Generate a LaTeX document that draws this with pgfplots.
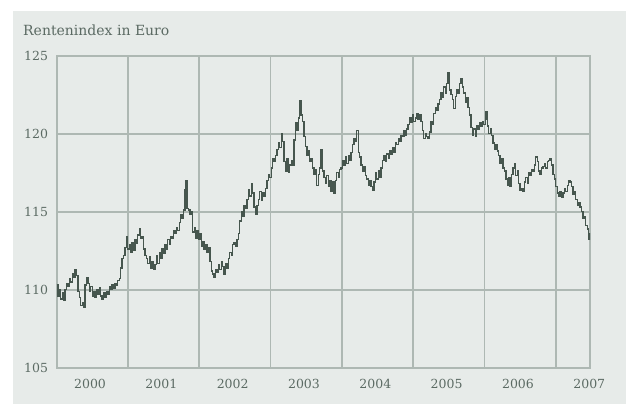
\documentclass[border=0pt]{standalone}
\usepackage{pgfplots}
\pgfplotsset{compat=1.18}
\usepackage{fontspec}
\setmainfont{DejaVu Serif}
\definecolor{panel}{HTML}{E7EBE9}
\definecolor{gridc}{HTML}{AEB8B3}
\definecolor{linec}{HTML}{46564E}
\definecolor{txt}{HTML}{5B6A63}
\pgfplotstableread{
t v
2000.00 110.3
2000.02 109.6
2000.04 110.0
2000.06 109.4
2000.08 109.8
2000.10 109.3
2000.12 110.0
2000.14 110.4
2000.16 110.2
2000.18 110.7
2000.20 110.5
2000.22 111.0
2000.24 110.8
2000.26 111.3
2000.28 110.9
2000.30 109.9
2000.32 109.5
2000.34 109.0
2000.36 109.2
2000.38 108.9
2000.40 110.3
2000.42 110.8
2000.44 110.4
2000.46 109.9
2000.48 110.2
2000.50 109.6
2000.52 109.9
2000.54 109.5
2000.56 110.0
2000.58 109.7
2000.60 110.1
2000.62 109.6
2000.64 109.4
2000.66 109.8
2000.68 109.5
2000.70 109.9
2000.72 109.7
2000.74 110.2
2000.76 110.0
2000.78 110.3
2000.80 110.1
2000.82 110.4
2000.84 110.3
2000.86 110.6
2000.88 110.7
2000.90 111.4
2000.92 112.0
2000.94 112.2
2000.96 112.7
2000.98 113.4
2001.00 112.6
2001.02 112.9
2001.04 112.4
2001.06 113.0
2001.08 112.5
2001.10 113.2
2001.12 113.0
2001.14 113.5
2001.16 113.9
2001.18 113.3
2001.20 113.4
2001.22 112.6
2001.24 112.2
2001.26 112.0
2001.28 111.7
2001.30 112.1
2001.32 111.4
2001.34 111.8
2001.36 111.3
2001.38 111.6
2001.40 112.2
2001.42 111.7
2001.44 112.4
2001.46 112.0
2001.48 112.6
2001.50 112.3
2001.52 112.9
2001.54 112.6
2001.56 113.2
2001.58 112.9
2001.60 113.4
2001.62 113.3
2001.64 113.8
2001.66 113.6
2001.68 114.0
2001.70 113.8
2001.72 114.3
2001.74 114.8
2001.76 114.6
2001.78 115.1
2001.80 116.4
2001.81 117.0
2001.83 115.2
2001.85 115.1
2001.87 114.8
2001.89 115.0
2001.91 113.7
2001.93 114.0
2001.95 113.3
2001.97 113.8
2001.99 113.2
2002.01 113.6
2002.03 112.8
2002.05 113.1
2002.07 112.6
2002.09 112.9
2002.11 112.4
2002.13 112.7
2002.15 111.8
2002.17 111.2
2002.19 111.0
2002.21 110.8
2002.23 111.3
2002.25 111.1
2002.27 111.6
2002.29 111.3
2002.31 111.8
2002.33 111.5
2002.35 111.0
2002.37 111.7
2002.39 111.4
2002.41 112.0
2002.43 112.4
2002.45 112.2
2002.47 112.9
2002.49 113.0
2002.51 112.8
2002.53 113.2
2002.55 113.6
2002.57 114.4
2002.59 115.0
2002.61 114.7
2002.63 115.4
2002.65 115.2
2002.67 115.8
2002.69 116.4
2002.71 116.0
2002.73 116.8
2002.75 116.2
2002.77 115.3
2002.79 114.8
2002.81 115.4
2002.83 115.8
2002.85 116.3
2002.87 115.7
2002.89 116.2
2002.91 116.0
2002.93 116.5
2002.95 117.0
2002.97 117.4
2002.99 117.2
2003.01 117.8
2003.03 118.4
2003.05 118.2
2003.07 118.6
2003.09 119.0
2003.11 119.4
2003.13 119.1
2003.15 120.0
2003.17 119.5
2003.19 118.2
2003.21 117.6
2003.23 118.4
2003.25 117.5
2003.27 118.0
2003.29 118.3
2003.31 118.0
2003.33 119.6
2003.35 120.7
2003.37 120.2
2003.39 121.0
2003.41 122.1
2003.43 121.2
2003.45 120.8
2003.47 119.8
2003.49 119.2
2003.51 118.6
2003.53 118.9
2003.55 118.2
2003.57 118.4
2003.59 117.8
2003.61 117.4
2003.63 117.7
2003.65 116.7
2003.67 117.4
2003.69 117.8
2003.71 119.0
2003.73 117.6
2003.75 117.2
2003.77 116.8
2003.79 117.3
2003.81 116.6
2003.83 117.0
2003.85 116.3
2003.87 116.9
2003.89 116.2
2003.91 117.0
2003.93 117.5
2003.95 117.2
2003.97 117.7
2003.99 117.8
2004.01 118.3
2004.03 118.0
2004.05 118.5
2004.07 118.1
2004.09 118.6
2004.11 118.3
2004.13 118.8
2004.15 119.3
2004.17 119.7
2004.19 119.5
2004.21 120.2
2004.23 118.8
2004.25 118.5
2004.27 118.0
2004.29 117.6
2004.31 117.9
2004.33 117.3
2004.35 117.1
2004.37 116.7
2004.39 117.0
2004.41 116.6
2004.43 116.4
2004.45 116.9
2004.47 117.5
2004.49 117.1
2004.51 117.6
2004.53 117.2
2004.55 117.8
2004.57 118.3
2004.59 118.6
2004.61 118.2
2004.63 118.7
2004.65 118.4
2004.67 118.9
2004.69 118.7
2004.71 119.1
2004.73 118.8
2004.75 119.4
2004.77 119.3
2004.79 119.7
2004.81 119.5
2004.83 119.9
2004.85 119.8
2004.87 120.2
2004.89 119.9
2004.91 120.3
2004.93 120.6
2004.95 121.0
2004.97 120.7
2004.99 121.2
2005.01 120.8
2005.03 121.0
2005.05 121.3
2005.07 120.9
2005.09 121.2
2005.11 120.8
2005.13 120.2
2005.15 119.7
2005.17 120.0
2005.19 119.8
2005.21 119.7
2005.23 120.1
2005.25 120.8
2005.27 120.6
2005.29 121.3
2005.31 121.7
2005.33 121.5
2005.35 121.9
2005.37 122.2
2005.39 122.6
2005.41 122.3
2005.43 123.0
2005.45 122.6
2005.47 123.2
2005.49 123.9
2005.51 122.8
2005.53 122.5
2005.55 122.2
2005.57 121.6
2005.59 122.4
2005.61 122.8
2005.63 122.6
2005.65 123.2
2005.67 123.5
2005.69 123.0
2005.71 122.6
2005.73 122.0
2005.75 122.3
2005.77 121.7
2005.79 121.2
2005.81 120.4
2005.83 119.9
2005.85 120.3
2005.87 119.8
2005.89 120.5
2005.91 120.3
2005.93 120.7
2005.95 120.5
2005.97 120.8
2005.99 120.6
2006.01 120.9
2006.02 121.4
2006.04 120.5
2006.06 120.0
2006.08 120.3
2006.10 119.9
2006.12 119.4
2006.14 119.0
2006.16 119.3
2006.18 118.9
2006.20 118.6
2006.22 118.1
2006.24 118.4
2006.26 117.8
2006.28 117.6
2006.30 117.1
2006.32 116.7
2006.34 117.2
2006.36 116.6
2006.38 117.4
2006.40 117.8
2006.42 118.1
2006.44 117.3
2006.46 117.6
2006.48 116.8
2006.50 116.4
2006.52 116.5
2006.54 116.3
2006.56 116.9
2006.58 117.2
2006.60 116.8
2006.62 117.5
2006.64 117.3
2006.66 117.7
2006.68 117.6
2006.70 118.0
2006.72 118.5
2006.74 118.2
2006.76 117.6
2006.78 117.4
2006.80 117.8
2006.82 117.9
2006.84 118.1
2006.86 117.8
2006.88 118.2
2006.90 118.3
2006.92 118.4
2006.94 118.0
2006.96 117.4
2006.98 117.1
2007.00 116.6
2007.02 116.2
2007.04 116.0
2007.06 116.3
2007.08 115.9
2007.10 116.2
2007.12 116.5
2007.14 116.3
2007.16 116.7
2007.18 117.0
2007.20 116.9
2007.22 116.6
2007.24 116.1
2007.26 116.3
2007.28 115.8
2007.30 115.4
2007.32 115.6
2007.34 115.3
2007.36 115.0
2007.38 114.6
2007.40 114.7
2007.42 114.1
2007.44 113.9
2007.46 113.2
2007.47 113.6
2007.48 113.2
}\rentendata

\begin{document}
\begin{tikzpicture}[x=1bp,y=1bp]
\fill[white] (0,0) rectangle (626,404);
\fill[panel] (13,0) rectangle (626,393);
\useasboundingbox (0,0) rectangle (626,404);
\node[anchor=base west, inner sep=0, text=txt, font=\fontsize{14bp}{16bp}\selectfont] at (23,369) {Rentenindex in Euro};
\begin{axis}[
  at={(56.5bp,36.3bp)}, anchor=south west,
  scale only axis, width=533.5bp, height=312bp,
  xmin=2000, xmax=2007.48, ymin=105, ymax=125,
  axis line style={gridc, line width=2bp},
  grid style={gridc, line width=1.8bp},
  minor grid style={gridc, line width=1.8bp},
  ytick={105,110,115,120,125}, ymajorgrids,
  xtick={2000.47,2001.47,2002.47,2003.47,2004.47,2005.47,2006.47,2007.47},
  xticklabels={2000,2001,2002,2003,2004,2005,2006,2007},
  minor xtick={2001,2002,2003,2004,2005,2006,2007},
  xminorgrids,
  major tick length=0pt, minor tick length=0pt,
  tick label style={text=txt, font=\fontsize{12.5bp}{14bp}\selectfont},
  /pgf/number format/assume math mode=true,
  /pgf/number format/1000 sep={},
  yticklabel style={xshift=-5bp},
  xticklabel style={yshift=-8bp},
]
\addplot[const plot, linec, line width=1.3bp] table[x=t, y=v] {\rentendata};
\end{axis}
\end{tikzpicture}
\end{document}
